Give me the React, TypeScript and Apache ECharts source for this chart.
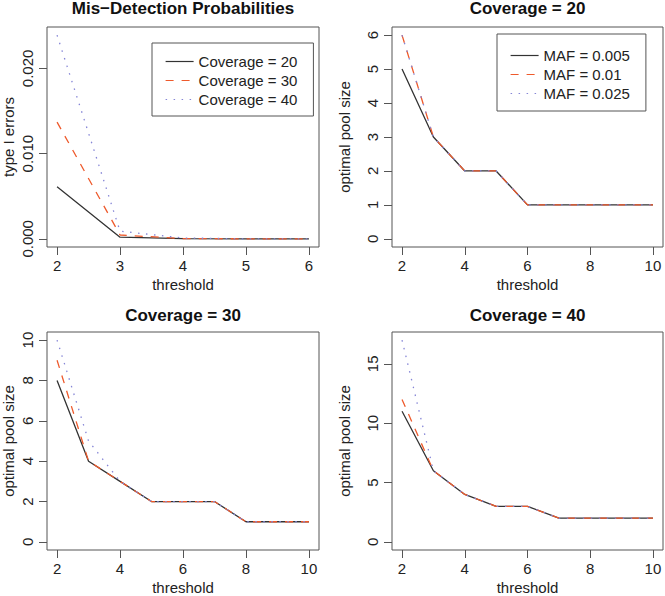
import React, { useEffect, useRef } from "react";
import * as echarts from "echarts";

// ---------- data ----------
const misThresholds = [2, 3, 4, 5, 6];
const misCov20 = [0.0061, 0.0002, 0.00002, 0, 0];
const misCov30 = [0.0137, 0.00045, 0.00004, 0, 0];
const misCov40 = [0.0239, 0.0009, 0.0001, 0, 0];
const misNames = ["Coverage = 20", "Coverage = 30", "Coverage = 40"];

const thresholds = [2, 3, 4, 5, 6, 7, 8, 9, 10];
const mafNames = ["MAF = 0.005", "MAF = 0.01", "MAF = 0.025"];
// Coverage = 20
const c20Maf005 = [5, 3, 2, 2, 1, 1, 1, 1, 1];
const c20Maf01 = [6, 3, 2, 2, 1, 1, 1, 1, 1];
const c20Maf025 = [6, 3, 2, 2, 1, 1, 1, 1, 1];
// Coverage = 30
const c30Maf005 = [8, 4, 3, 2, 2, 2, 1, 1, 1];
const c30Maf01 = [9, 4, 3, 2, 2, 2, 1, 1, 1];
const c30Maf025 = [10, 5, 3, 2, 2, 2, 1, 1, 1];
// Coverage = 40
const c40Maf005 = [11, 6, 4, 3, 3, 2, 2, 2, 2];
const c40Maf01 = [12, 6, 4, 3, 3, 2, 2, 2, 2];
const c40Maf025 = [17, 6, 4, 3, 3, 2, 2, 2, 2];

const titles = ["Mis\u2212Detection Probabilities", "Coverage = 20", "Coverage = 30", "Coverage = 40"];
const misXTicks = [2, 3, 4, 5, 6];
const misYTicks = [0, 0.01, 0.02];
const poolXTicks = [2, 4, 6, 8, 10];
const c20YTicks = [0, 1, 2, 3, 4, 5, 6];
const c30YTicks = [0, 2, 4, 6, 8, 10];
const c40YTicks = [0, 5, 10, 15];

// ---------- styling ----------
const FONT = "Liberation Sans, Arial, Helvetica, sans-serif";
const BOX = "#555555";
const COLORS = ["#333333", "#EE5A2C", "#8585D6"];
const DASHES: any[] = ["solid", [8, 8], [1.5, 6.5]];

const ext = (lo: number, hi: number) => {
  const d = (hi - lo) * 0.04;
  return [lo - d, hi + d];
};

const grids = [
  { left: 47, top: 27, width: 272, height: 220, yNameGap: 31 },
  { left: 392, top: 27, width: 271, height: 220, yNameGap: 40 },
  { left: 47, top: 332, width: 272, height: 218, yNameGap: 31 },
  { left: 392, top: 332, width: 271, height: 218, yNameGap: 40 },
];

export default function App() {
  const ref = useRef<HTMLDivElement>(null);
  useEffect(() => {
    if (!ref.current) return;
    const chart = echarts.init(ref.current, undefined, { renderer: "svg" });

    const panels = [
      {
        x: misThresholds,
        ys: [misCov20, misCov30, misCov40],
        names: misNames,
        xTicks: misXTicks,
        yTicks: misYTicks,
        yName: "type I errors",
        fmt: (v: number) => v.toFixed(3),
      },
      { x: thresholds, ys: [c20Maf005, c20Maf01, c20Maf025], names: mafNames, xTicks: poolXTicks, yTicks: c20YTicks, yName: "optimal pool size", fmt: (v: number) => String(v) },
      { x: thresholds, ys: [c30Maf005, c30Maf01, c30Maf025], names: mafNames, xTicks: poolXTicks, yTicks: c30YTicks, yName: "optimal pool size", fmt: (v: number) => String(v) },
      { x: thresholds, ys: [c40Maf005, c40Maf01, c40Maf025], names: mafNames, xTicks: poolXTicks, yTicks: c40YTicks, yName: "optimal pool size", fmt: (v: number) => String(v) },
    ];

    const gridOpts: any[] = [];
    const xAxes: any[] = [];
    const yAxes: any[] = [];
    const series: any[] = [];
    const titleOpts: any[] = [];

    panels.forEach((p, i) => {
      const g = grids[i];
      gridOpts.push({
        left: g.left,
        top: g.top,
        width: g.width,
        height: g.height,
        show: true,
        borderColor: BOX,
        borderWidth: 1,
        backgroundColor: "transparent",
        containLabel: false,
      });
      const [xMin, xMax] = ext(Math.min(...p.x), Math.max(...p.x));
      const allY = p.ys.flat();
      const [yMin, yMax] = ext(0, Math.max(...allY));
      xAxes.push({
        type: "value",
        gridIndex: i,
        min: xMin,
        max: xMax,
        name: "threshold",
        nameLocation: "middle",
        nameGap: 30,
        nameTextStyle: { fontFamily: FONT, fontSize: 15, color: "#222" },
        axisLine: { show: false, onZero: false },
        axisTick: { show: true, length: 8, lineStyle: { color: BOX }, customValues: p.xTicks },
        axisLabel: { fontFamily: FONT, fontSize: 15, color: "#222", margin: 11, customValues: p.xTicks },
        splitLine: { show: false },
      });
      yAxes.push({
        type: "value",
        gridIndex: i,
        min: yMin,
        max: yMax,
        name: p.yName,
        nameLocation: "middle",
        nameGap: g.yNameGap,
        nameTextStyle: { fontFamily: FONT, fontSize: 15, color: "#222" },
        axisLine: { show: false, onZero: false },
        axisTick: { show: true, length: 8, lineStyle: { color: BOX }, customValues: p.yTicks },
        axisLabel: { fontFamily: FONT, fontSize: 15, color: "#222", margin: 12, rotate: 90, customValues: p.yTicks, formatter: p.fmt },
        splitLine: { show: false },
      });
      p.ys.forEach((ys, k) => {
        series.push({
          type: "line",
          name: p.names[k],
          xAxisIndex: i,
          yAxisIndex: i,
          data: p.x.map((xv, j) => [xv, ys[j]]),
          symbol: "none",
          showSymbol: false,
          color: COLORS[k],
          lineStyle: { color: COLORS[k], width: 1.3, type: DASHES[k] },
          silent: true,
          z: 2 + k,
        });
      });
      titleOpts.push({
        text: titles[i],
        left: g.left + g.width / 2,
        top: i < 2 ? 0 : 307,
        padding: 0,
        textAlign: "center",
        textStyle: { fontFamily: FONT, fontSize: 17, fontWeight: "bold", color: "#111" },
      });
    });

    const legendCommon = {
      orient: "vertical",
      itemWidth: 28,
      itemHeight: 14,
      itemGap: 4,
      borderColor: BOX,
      borderWidth: 1,
      borderRadius: 0,
      backgroundColor: "#fff",
      itemStyle: { opacity: 0 },
      lineStyle: { width: 1.2 },
      textStyle: { fontFamily: FONT, fontSize: 15, color: "#222" },
      selectedMode: false,
    };

    chart.setOption({
      animation: false,
      backgroundColor: "#fff",
      title: titleOpts,
      grid: gridOpts,
      xAxis: xAxes,
      yAxis: yAxes,
      legend: [
        { ...legendCommon, data: misNames, left: 152, top: 43, padding: [11, 16, 9, 13] },
        { ...legendCommon, data: mafNames, left: 497, top: 34, padding: [14, 16, 10, 13] },
      ],
      series,
    });
    return () => chart.dispose();
  }, []);
  return <div ref={ref} style={{ position: "absolute", left: 0, top: 0, width: 665, height: 596 }} />;
}
